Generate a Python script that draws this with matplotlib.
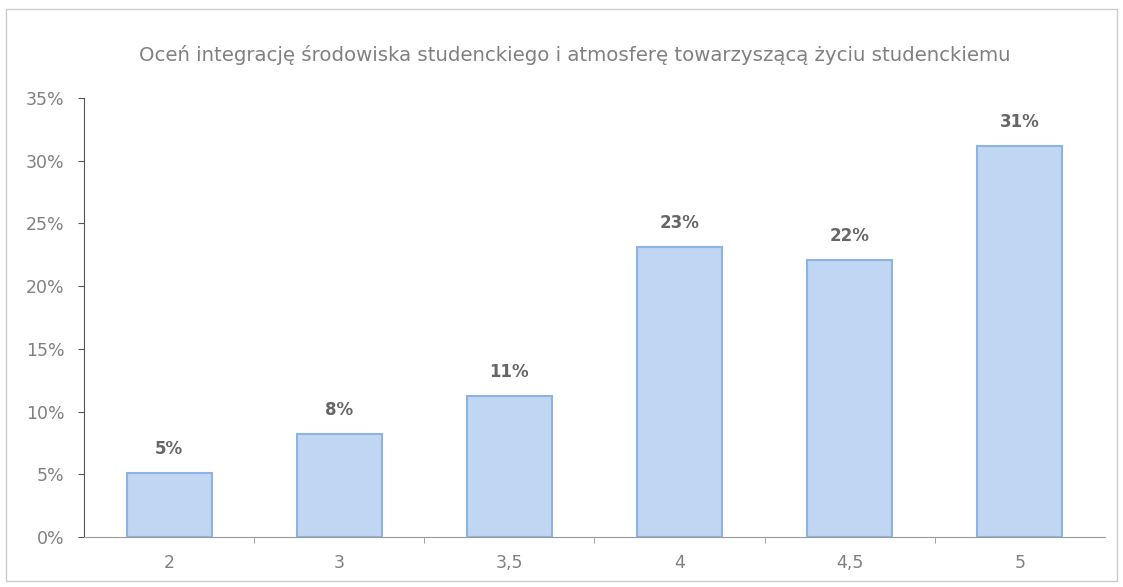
import numpy as np
import matplotlib.pyplot as plt
from matplotlib.patches import Rectangle

categories = ["2", "3", "3,5", "4", "4,5", "5"]
values = [5.1, 8.2, 11.2, 23.1, 22.1, 31.2]
labels = ["5%", "8%", "11%", "23%", "22%", "31%"]
title = "Oceń integrację środowiska studenckiego i atmosferę towarzyszącą życiu studenckiemu"

fig = plt.figure(figsize=(11.23, 5.87), dpi=100)
ax = fig.add_axes([0.0748, 0.0852, 0.909, 0.748])

x = np.arange(len(categories))
ax.bar(x, values, width=0.5, color="#c0d6f2", edgecolor="#8db3e2", linewidth=1.5, zorder=3)

for xi, v, lab in zip(x, values, labels):
    ax.text(xi, v + 1.2, lab, ha="center", va="bottom", fontsize=12,
            fontweight="bold", color="#666666")

ax.set_xlim(-0.5, len(categories) - 0.5)
ax.set_ylim(0, 35)
ax.set_yticks(np.arange(0, 36, 5))
ax.set_yticklabels([f"{t}%" for t in range(0, 36, 5)])
ax.set_xticks(x)
ax.set_xticklabels(categories)
ax.set_xticks(np.arange(0.5, len(categories) - 0.5, 1), minor=True)

for side in ["top", "right"]:
    ax.spines[side].set_visible(False)
ax.spines["left"].set_color("#555555")
ax.spines["left"].set_linewidth(0.8)
ax.spines["bottom"].set_color("#999999")
ax.spines["bottom"].set_linewidth(0.8)

ax.tick_params(axis="y", length=4, color="#555555", labelcolor="#808080", labelsize=12.5, pad=10)
ax.tick_params(axis="x", which="major", length=0, labelcolor="#808080", labelsize=12.5, pad=12)
ax.tick_params(axis="x", which="minor", length=4, color="#999999")

fig.text(0.512, 0.906, title, ha="center", va="center", fontsize=14.2, color="#808080")

# ramka wykresu
fig.patches.append(Rectangle((0.005, 0.01), 0.99, 0.975, transform=fig.transFigure,
                             fill=False, edgecolor="#cccccc", linewidth=1))

fig.savefig("out.png", dpi=100)
